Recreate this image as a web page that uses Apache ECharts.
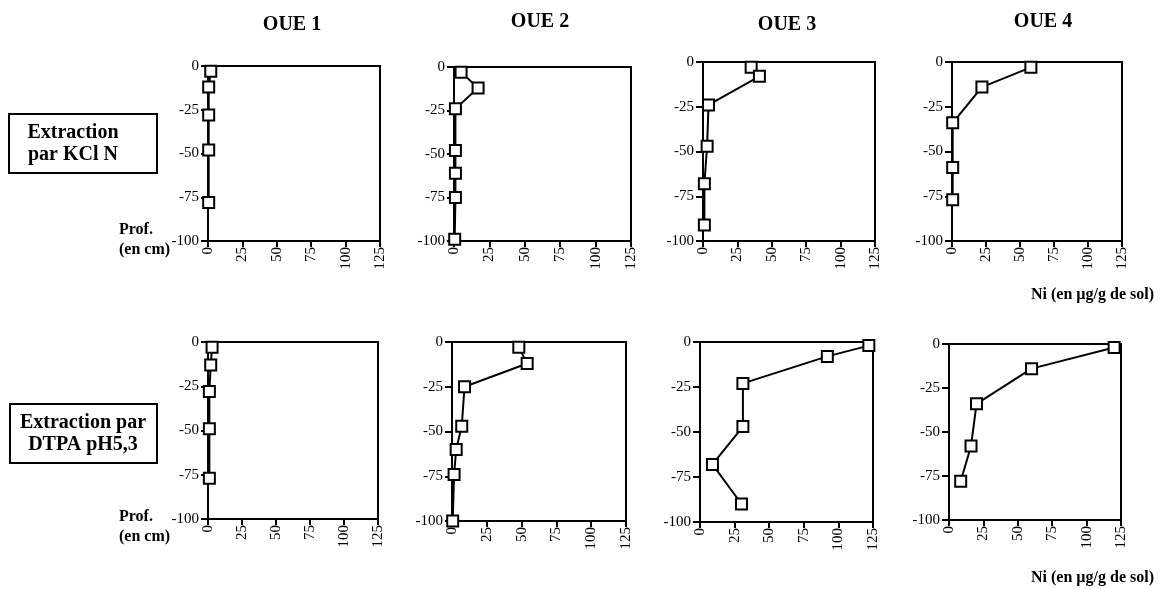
<!DOCTYPE html>
<html>
<head>
<meta charset="utf-8">
<script src="https://cdn.jsdelivr.net/npm/echarts@6/dist/echarts.min.js"></script>
<style>
html,body{margin:0;padding:0;background:#fff;}
#chart{width:1160px;height:589px;}
</style>
</head>
<body>
<div id="chart"></div>
<script>
// ---- data (Ni in µg/g de sol, depth in cm) ----
var panelTitles = ['OUE 1', 'OUE 2', 'OUE 3', 'OUE 4'];
var rowLabels = ['Extraction\npar KCl N', 'Extraction par\nDTPA pH5,3'];
var xTicks = [0, 25, 50, 75, 100, 125];
var yTicks = [-100, -75, -50, -25, 0];

var kclOue1Ni = [2, 0.5, 0.5, 0.5, 0.5];
var kclOue1Depth = [-3, -12, -28, -48, -78];
var kclOue2Ni = [5, 17, 1, 1, 1, 1, 0.5];
var kclOue2Depth = [-3, -12, -24, -48, -61, -75, -99];
var kclOue3Ni = [35, 41, 4, 3, 1, 1];
var kclOue3Depth = [-3, -8, -24, -47, -68, -91];
var kclOue4Ni = [58, 22, 0.5, 0.5, 0.5];
var kclOue4Depth = [-3, -14, -34, -59, -77];

var dtpaOue1Ni = [3, 2, 1, 1, 1];
var dtpaOue1Depth = [-3, -13, -28, -49, -77];
var dtpaOue2Ni = [48, 54, 9, 7, 3, 1.5, 0.5];
var dtpaOue2Depth = [-3, -12, -25, -47, -60, -74, -100];
var dtpaOue3Ni = [122, 92, 31, 31, 9, 30];
var dtpaOue3Depth = [-2, -8, -23, -47, -68, -90];
var dtpaOue4Ni = [120, 60, 20, 16, 8.5];
var dtpaOue4Depth = [-2, -14, -34, -58, -78];

var panels = [
  [kclOue1Ni, kclOue1Depth], [kclOue2Ni, kclOue2Depth], [kclOue3Ni, kclOue3Depth], [kclOue4Ni, kclOue4Depth],
  [dtpaOue1Ni, dtpaOue1Depth], [dtpaOue2Ni, dtpaOue2Depth], [dtpaOue3Ni, dtpaOue3Depth], [dtpaOue4Ni, dtpaOue4Depth]
];

// ---- layout ----
var gridBoxes = [
  [208, 66, 172, 175], [454, 67, 177, 174], [703, 62, 172, 179], [952, 62, 170, 179],
  [208, 342, 170, 177], [452, 342, 174, 179], [700, 342, 173, 180], [949, 344, 172, 176]
];
var FONT = "'Liberation Serif', 'DejaVu Serif', serif";

var grids = [], xAxes = [], yAxes = [], series = [];
gridBoxes.forEach(function (b, i) {
  grids.push({left: b[0], top: b[1], width: b[2], height: b[3], show: true,
    borderColor: '#000', borderWidth: 2, backgroundColor: 'transparent', containLabel: false});
  xAxes.push({type: 'value', gridIndex: i, min: xTicks[0], max: xTicks[xTicks.length - 1], interval: 25,
    splitLine: {show: false},
    axisLine: {show: true, onZero: false, lineStyle: {color: '#000', width: 2}},
    axisTick: {show: true, length: 6, lineStyle: {color: '#000', width: 2}},
    axisLabel: {rotate: 90, margin: 6, color: '#000', fontFamily: FONT, fontSize: 15}
  });
  yAxes.push({type: 'value', gridIndex: i, min: yTicks[0], max: yTicks[yTicks.length - 1], interval: 25,
    splitLine: {show: false},
    axisLine: {show: true, onZero: false, lineStyle: {color: '#000', width: 2}},
    axisTick: {show: true, length: 7, lineStyle: {color: '#000', width: 2}},
    axisLabel: {margin: 9, color: '#000', fontFamily: FONT, fontSize: 15}
  });
  var ni = panels[i][0], dep = panels[i][1];
  var d = ni.map(function (v, k) { return [v, dep[k]]; });
  series.push({type: 'line', xAxisIndex: i, yAxisIndex: i, data: d, clip: false,
    symbol: 'rect', symbolSize: 11, showSymbol: true,
    lineStyle: {color: '#000', width: 2},
    itemStyle: {color: '#fff', borderColor: '#000', borderWidth: 2},
    animation: false, silent: true});
});

function txt(x, y, t, size, align, lh) {
  return {type: 'text', x: x, y: y,
    style: {text: t, fontFamily: FONT, fontWeight: 'bold', fontSize: size, fill: '#000',
      textAlign: align, textVerticalAlign: 'middle', lineHeight: lh || size + 2}};
}

var titleCenters = [[292, 25], [540, 22], [787, 25], [1043, 22]];
var graphics = [];
panelTitles.forEach(function (t, i) {
  graphics.push(txt(titleCenters[i][0], titleCenters[i][1], t, 20, 'center'));
});
var boxes = [[9, 114, 148, 59, 73], [10, 404, 147, 59, 83]];
rowLabels.forEach(function (t, i) {
  var b = boxes[i];
  graphics.push({type: 'rect', shape: {x: b[0], y: b[1], width: b[2], height: b[3]},
    style: {fill: '#fff', stroke: '#000', lineWidth: 2}});
  graphics.push(txt(b[4], b[1] + b[3] / 2, t, 20, 'center', 22));
});
[[119, 240], [119, 527]].forEach(function (p) {
  graphics.push(txt(p[0], p[1], 'Prof.\n(en cm)', 16, 'left', 20));
});
[295, 578].forEach(function (y) {
  graphics.push(txt(1154, y, 'Ni (en µg/g de sol)', 16, 'right'));
});

var chart = echarts.init(document.getElementById('chart'), null, {renderer: 'canvas'});
chart.setOption({
  animation: false,
  backgroundColor: '#fff',
  grid: grids,
  xAxis: xAxes,
  yAxis: yAxes,
  series: series,
  graphic: graphics
});
</script>
</body>
</html>
